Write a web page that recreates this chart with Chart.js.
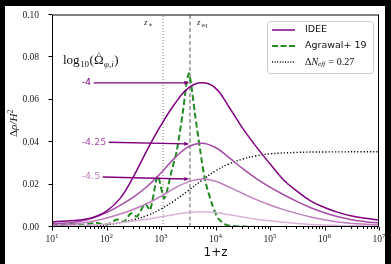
<!DOCTYPE html>
<html>
<head>
<meta charset="utf-8">
<script src="https://cdn.jsdelivr.net/npm/chart.js@4.4.1/dist/chart.umd.min.js"></script>
<style>
  html, body { margin: 0; padding: 0; background: #000; }
</style>
</head>
<body>
<canvas id="myChart" width="391" height="264"></canvas>
<script>
const ctx = document.getElementById('myChart');

// 1+z sample points shared by the IDEE curves (quarter decades)
const zIdee   = [10, 17.8, 31.6, 56.2, 100, 178, 316, 562, 1000, 1778, 3162, 5623, 10000, 17783, 31623, 56234,
                 100000, 177828, 316228, 562341, 1000000, 1778279, 3162278, 5623413, 10000000];
const idee400 = [0.0024, 0.0028, 0.0033, 0.0045, 0.0075, 0.0135, 0.024, 0.0365, 0.048, 0.058, 0.0655, 0.068, 0.0655,
                 0.0565, 0.0465, 0.0378, 0.0298, 0.0222, 0.0168, 0.0122, 0.0092, 0.0069, 0.0052, 0.0041, 0.0033];
const idee425 = [0.0015, 0.0019, 0.0026, 0.0042, 0.0068, 0.0102, 0.0142, 0.0192, 0.0255, 0.0325, 0.0378, 0.0395, 0.0375,
                 0.0327, 0.0275, 0.0228, 0.0188, 0.0152, 0.012, 0.0091, 0.0067, 0.0048, 0.0034, 0.0025, 0.0019];
const idee450 = [0.0008, 0.001, 0.0016, 0.0027, 0.0042, 0.0061, 0.0084, 0.0111, 0.0145, 0.0183, 0.0213, 0.0226, 0.0216,
                 0.0188, 0.0158, 0.0129, 0.0104, 0.0082, 0.0063, 0.0047, 0.0034, 0.0024, 0.0017, 0.0013, 0.001];
const idee475 = [0.0003, 0.0004, 0.0006, 0.0009, 0.0014, 0.002, 0.0028, 0.0037, 0.0048, 0.0059, 0.0068, 0.0072, 0.0068,
                 0.0058, 0.0047, 0.0037, 0.0029, 0.0022, 0.0017, 0.0012, 0.0009, 0.0007, 0.0006, 0.0005, 0.0004];

const zAgrawal = [10, 14, 21.4, 35.5, 61.7, 102, 155, 209, 282, 363, 513, 631, 871, 1148, 1585, 1950, 2512, 2951, 3236,
                  3548, 4169, 5248, 6457, 8710, 11220, 15849, 31623, 100000, 10000000];
const agrawal  = [0.002, 0.0008, 0.0015, 0.0008, 0.002, 0.0012, 0.0035, 0.0025, 0.0065, 0.005, 0.011, 0.008, 0.024,
                  0.0135, 0.027, 0.036, 0.054, 0.068, 0.0725, 0.068, 0.054, 0.036, 0.022, 0.0105, 0.004, 0.001, 0.0002, 0, 0];

const zNeff = [10, 31.6, 100, 316, 562, 1000, 1778, 3162, 5623, 10000, 17783, 31623, 56234, 100000, 316228, 1000000, 10000000];
const neff  = [0, 0.0003, 0.001, 0.0035, 0.0055, 0.0085, 0.0125, 0.0172, 0.022, 0.0265, 0.0298, 0.032, 0.0336, 0.0345,
               0.0352, 0.0354, 0.0355];

const zStar = 1090;
const zEq = 3400;

const xTicks = [10, 100, 1000, 10000, 100000, 1000000, 10000000];
const yTicks = [0, 0.02, 0.04, 0.06, 0.08, 0.10];

const annoLabels = ['-4', '-4.25', '-4.5'];
const annoTextX  = 35;
const annoTextY  = [0.068, 0.040, 0.0236];
const annoTipX   = 3300;
const annoTipY   = [0.068, 0.0392, 0.0226];

const purple = ['#800080', '#a64ca6', '#bf7fbf', '#d9b2d9'];
const green = '#228b22';

const pts = (xs, ys) => xs.map((x, i) => ({x: x, y: ys[i]}));
const serif = '"Liberation Serif", "DejaVu Serif", serif';
const sans = '"DejaVu Sans", sans-serif';

function curve(data, color, width, tension) {
  return {data: data, borderColor: color, borderWidth: width, pointRadius: 0,
          fill: false, tension: tension};
}

const extras = {
  id: 'extras',
  beforeDraw(chart) {
    const c = chart.ctx;
    c.save();
    c.fillStyle = '#000';
    c.fillRect(0, 0, chart.width, chart.height);
    c.fillStyle = '#fff';
    c.fillRect(5, 6, 380, 258);
    c.restore();
  },
  afterDraw(chart) {
    const c = chart.ctx;
    const a = chart.chartArea;
    const xs = chart.scales.x, ys = chart.scales.y;
    c.save();

    // spines
    c.strokeStyle = '#000';
    c.lineWidth = 1;
    c.beginPath();
    c.moveTo(a.left + 0.5, a.top); c.lineTo(a.left + 0.5, a.bottom);
    c.moveTo(a.right - 0.5, a.top); c.lineTo(a.right - 0.5, a.bottom);
    c.moveTo(a.left, a.bottom - 0.5); c.lineTo(a.right, a.bottom - 0.5);
    c.moveTo(a.left, a.top); c.lineTo(a.right, a.top);
    c.stroke();

    // tick marks
    c.beginPath();
    yTicks.forEach(v => {
      const y = Math.round(ys.getPixelForValue(v)) - 0.5;
      c.moveTo(a.left - 3.5, y); c.lineTo(a.left, y);
    });
    xTicks.forEach((v, i) => {
      const x = Math.round(xs.getPixelForValue(v)) + 0.5;
      c.moveTo(x, a.bottom); c.lineTo(x, a.bottom + 3.5);
      if (i < xTicks.length - 1) {
        for (let m = 2; m < 10; m++) {
          const xm = Math.round(xs.getPixelForValue(v * m)) + 0.5;
          c.moveTo(xm, a.bottom); c.lineTo(xm, a.bottom + 2);
        }
      }
    });
    c.stroke();

    // x tick labels 10^n
    c.fillStyle = '#222';
    c.textBaseline = 'alphabetic';
    xTicks.forEach(v => {
      const x = xs.getPixelForValue(v);
      const e = String(Math.round(Math.log10(v)));
      c.font = '9.5px ' + serif;
      const w1 = c.measureText('10').width;
      c.font = '7px ' + serif;
      const w2 = c.measureText(e).width;
      const x0 = x - (w1 + w2) / 2;
      c.font = '9.5px ' + serif;
      c.textAlign = 'left';
      c.fillText('10', x0, a.bottom + 15);
      c.font = '7px ' + serif;
      c.fillText(e, x0 + w1, a.bottom + 10.5);
    });

    // z_* and z_eq labels
    c.font = 'italic 9px ' + serif;
    c.fillStyle = '#333';
    const xStar = xs.getPixelForValue(zStar), xEq = xs.getPixelForValue(zEq);
    c.fillText('z', xStar - 19, a.top + 10);
    c.font = '7px ' + serif;
    c.fillText('\u2217', xStar - 15, a.top + 12);
    c.font = 'italic 9px ' + serif;
    c.fillText('z', xEq + 7, a.top + 10);
    c.font = '6.5px ' + serif;
    c.fillText('eq', xEq + 11.5, a.top + 12);

    // log10(Omega) annotation heading
    c.fillStyle = '#111';
    let tx = 63;
    const ty = 64;
    c.font = '13px ' + serif;
    c.fillText('log', tx, ty); tx += c.measureText('log').width + 0.5;
    c.font = '9px ' + serif;
    c.fillText('10', tx, ty + 3); tx += c.measureText('10').width + 0.5;
    c.font = '13px ' + serif;
    c.fillText('(', tx, ty); tx += c.measureText('(').width;
    c.fillText('\u03A9', tx, ty);
    const wo = c.measureText('\u03A9').width;
    c.font = '9px ' + serif;
    c.textAlign = 'center';
    c.fillText('^', tx + wo / 2, ty - 6);
    c.textAlign = 'left';
    tx += wo + 0.5;
    c.font = 'italic 9px ' + serif;
    c.fillText('\u03C6,i', tx, ty + 3); tx += c.measureText('\u03C6,i').width + 0.5;
    c.font = '13px ' + serif;
    c.fillText(')', tx, ty);

    // arrows with labels
    annoLabels.forEach((t, i) => {
      const lx = xs.getPixelForValue(annoTextX), ly = ys.getPixelForValue(annoTextY[i]);
      c.font = '9.5px ' + sans;
      c.textBaseline = 'middle';
      c.fillStyle = purple[i];
      c.fillText(t, lx, ly);
      const w = c.measureText(t).width;
      const x0 = lx + w + 2.5, y0 = ly;
      const x1 = xs.getPixelForValue(annoTipX), y1 = ys.getPixelForValue(annoTipY[i]);
      const ang = Math.atan2(y1 - y0, x1 - x0);
      c.strokeStyle = purple[0];
      c.fillStyle = purple[0];
      c.lineWidth = 1.4;
      c.beginPath();
      c.moveTo(x0, y0);
      c.lineTo(x1 - 3 * Math.cos(ang), y1 - 3 * Math.sin(ang));
      c.stroke();
      c.beginPath();
      c.moveTo(x1, y1);
      c.lineTo(x1 - 5 * Math.cos(ang) + 2 * Math.sin(ang), y1 - 5 * Math.sin(ang) - 2 * Math.cos(ang));
      c.lineTo(x1 - 5 * Math.cos(ang) - 2 * Math.sin(ang), y1 - 5 * Math.sin(ang) + 2 * Math.cos(ang));
      c.closePath();
      c.fill();
    });
    c.textBaseline = 'alphabetic';

    // legend
    const lx = 267, ly = 21, lw = 106, lh = 52;
    c.fillStyle = 'rgba(255,255,255,0.85)';
    c.strokeStyle = '#cccccc';
    c.lineWidth = 1;
    c.beginPath();
    c.roundRect(lx + 0.5, ly + 0.5, lw, lh, 3);
    c.fill();
    c.stroke();
    const rows = [30, 46, 62];
    c.lineWidth = 1.5;
    c.strokeStyle = purple[0];
    c.setLineDash([]);
    c.beginPath(); c.moveTo(272, rows[0]); c.lineTo(295, rows[0]); c.stroke();
    c.strokeStyle = green; c.lineWidth = 2; c.setLineDash([6, 2.5]);
    c.beginPath(); c.moveTo(272, rows[1]); c.lineTo(295, rows[1]); c.stroke();
    c.strokeStyle = '#000'; c.lineWidth = 1.3; c.setLineDash([1, 1.6]);
    c.beginPath(); c.moveTo(272, rows[2]); c.lineTo(295, rows[2]); c.stroke();
    c.setLineDash([]);
    c.fillStyle = '#111';
    c.textBaseline = 'middle';
    c.font = '9.5px ' + sans;
    c.fillText('IDEE', 305, rows[0]);
    c.fillText('Agrawal+ 19', 305, rows[1]);
    let nx = 305;
    c.font = '10px ' + serif;
    c.fillText('\u0394', nx, rows[2]); nx += c.measureText('\u0394').width;
    c.font = 'italic 10px ' + serif;
    c.fillText('N', nx, rows[2]); nx += c.measureText('N').width;
    c.font = 'italic 7px ' + serif;
    c.fillText('eff', nx, rows[2] + 2.5); nx += c.measureText('eff').width + 1;
    c.font = '10px ' + serif;
    c.fillText(' = 0.27', nx, rows[2]);

    // axis titles
    c.textAlign = 'center';
    c.textBaseline = 'alphabetic';
    c.font = '12px ' + sans;
    c.fillStyle = '#111';
    c.fillText('1+z', (a.left + a.right) / 2, 256);
    c.translate(17, 117);
    c.rotate(-Math.PI / 2);
    c.font = '11px ' + serif;
    c.textAlign = 'left';
    let px = -20;
    c.fillText('\u0394', px, 0); px += c.measureText('\u0394').width;
    c.font = 'italic 11px ' + serif;
    c.fillText('\u03C1/H', px, 0); px += c.measureText('\u03C1/H').width;
    c.font = '7.5px ' + serif;
    c.fillText('2', px + 0.5, -4);
    c.restore();
  }
};

new Chart(ctx, {
  type: 'line',
  data: {
    datasets: [
      curve(pts(zIdee, idee400), purple[0], 1.5, 0.4),
      curve(pts(zIdee, idee425), purple[1], 1.5, 0.4),
      curve(pts(zIdee, idee450), purple[2], 1.5, 0.4),
      curve(pts(zIdee, idee475), purple[3], 1.5, 0.4),
      Object.assign(curve(pts(zAgrawal, agrawal), green, 2, 0.25), {borderDash: [6, 3]}),
      Object.assign(curve(pts(zNeff, neff), '#000', 1.4, 0.4), {borderDash: [1.2, 2]}),
      {data: [{x: zStar, y: 0}, {x: zStar, y: 0.1}], borderColor: '#777', borderWidth: 1,
       borderDash: [1, 2], pointRadius: 0},
      {data: [{x: zEq, y: 0}, {x: zEq, y: 0.1}], borderColor: '#777', borderWidth: 1.2,
       borderDash: [4, 2.5], pointRadius: 0}
    ]
  },
  options: {
    responsive: false,
    animation: false,
    devicePixelRatio: 1,
    layout: {padding: {top: 15, right: 12, left: 0, bottom: 0}},
    plugins: {legend: {display: false}, tooltip: {enabled: false}},
    scales: {
      x: {
        type: 'logarithmic',
        min: 10, max: 10000000,
        grid: {display: false},
        border: {display: false},
        ticks: {display: false},
        afterFit: s => { s.height = 37; }
      },
      y: {
        min: 0, max: 0.1,
        grid: {display: false},
        border: {display: false},
        afterBuildTicks: s => { s.ticks = yTicks.map(v => ({value: v})); },
        ticks: {
          padding: 5,
          color: '#222',
          font: {family: serif, size: 9.5},
          callback: v => v.toFixed(2)
        },
        afterFit: s => { s.width = 52; }
      }
    }
  },
  plugins: [extras]
});
</script>
</body>
</html>
